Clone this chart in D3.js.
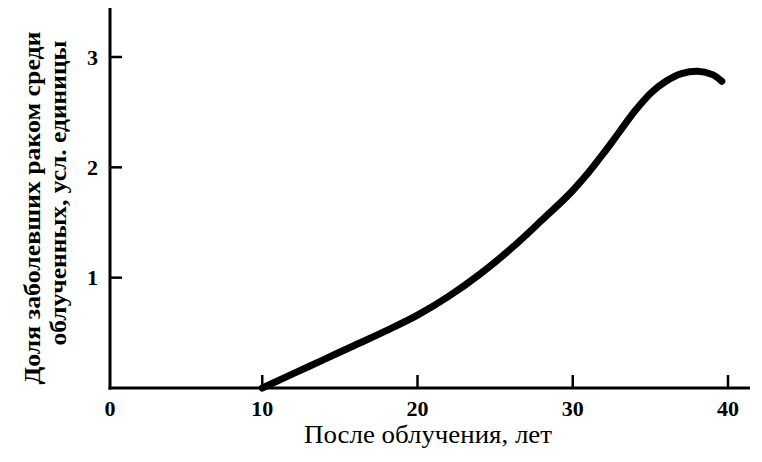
<!DOCTYPE html>
<html>
<head>
<meta charset="utf-8">
<script src="https://cdn.jsdelivr.net/npm/d3@7"></script>
<style>
  html, body { margin: 0; padding: 0; background: #fff; }
  svg { display: block; }
  text { font-family: "Liberation Serif", "Times New Roman", serif; fill: #000; }
</style>
</head>
<body>
<svg id="chart" width="762" height="462"></svg>
<script>
// Data
const years  = [10, 12, 14, 16, 18, 20, 22, 24, 26, 28, 30, 31, 32, 33, 34, 35, 36, 37, 38, 39, 39.6];
const values = [0, 0.13, 0.26, 0.39, 0.52, 0.66, 0.83, 1.03, 1.26, 1.52, 1.79, 1.95, 2.13, 2.32, 2.51, 2.67, 2.78, 2.85, 2.87, 2.84, 2.78];
const xTicks = [0, 10, 20, 30, 40];
const yTicks = [1, 2, 3];
const xTitle = "После облучения, лет";
const yTitle1 = "Доля заболевших раком среди";
const yTitle2 = "облученных, усл. единицы";

const svg = d3.select("#chart");
const x = d3.scaleLinear().domain([0, 40]).range([107, 728]);
const y = d3.scaleLinear().domain([0, 3]).range([388, 57]);
const x0 = 110, y0 = 388;

// Axis lines
svg.append("line").attr("x1", x0).attr("x2", x0).attr("y1", 8).attr("y2", y0 + 1.5)
  .attr("stroke", "#000").attr("stroke-width", 3);
svg.append("line").attr("x1", x0 - 1.5).attr("x2", 750).attr("y1", y0).attr("y2", y0)
  .attr("stroke", "#000").attr("stroke-width", 3);

// X ticks (pointing up) and labels
const xt = svg.append("g");
xt.selectAll("line").data(xTicks.filter(d => d > 0)).enter().append("line")
  .attr("x1", d => x(d)).attr("x2", d => x(d))
  .attr("y1", y0).attr("y2", y0 - 13)
  .attr("stroke", "#000").attr("stroke-width", 2.5);
xt.selectAll("text").data(xTicks).enter().append("text")
  .attr("x", d => d === 0 ? x0 : x(d)).attr("y", 416)
  .attr("text-anchor", "middle")
  .style("font-size", "22px").style("font-weight", "bold")
  .text(d => d);

// Y ticks (pointing right) and labels
const yt = svg.append("g");
yt.selectAll("line").data(yTicks).enter().append("line")
  .attr("x1", x0).attr("x2", x0 + 12)
  .attr("y1", d => y(d)).attr("y2", d => y(d))
  .attr("stroke", "#000").attr("stroke-width", 2.5);
yt.selectAll("text").data(yTicks).enter().append("text")
  .attr("x", 98).attr("y", d => y(d))
  .attr("dy", "0.35em")
  .attr("text-anchor", "end")
  .style("font-size", "22px").style("font-weight", "bold")
  .text(d => d);

// Curve
const line = d3.line()
  .x((d, i) => x(years[i]))
  .y((d, i) => y(values[i]))
  .curve(d3.curveMonotoneX);
svg.append("path")
  .attr("d", line(values))
  .attr("fill", "none")
  .attr("stroke", "#000")
  .attr("stroke-width", 7)
  .attr("stroke-linecap", "round")
  .attr("stroke-linejoin", "round");

// X axis title
svg.append("text")
  .attr("x", 428).attr("y", 443)
  .attr("text-anchor", "middle")
  .attr("textLength", 248).attr("lengthAdjust", "spacingAndGlyphs")
  .style("font-size", "25px")
  .text(xTitle);

// Y axis title (two rotated lines)
svg.append("text")
  .attr("transform", "translate(40,208) rotate(-90)")
  .attr("text-anchor", "middle")
  .attr("textLength", 353).attr("lengthAdjust", "spacingAndGlyphs")
  .style("font-size", "24px").style("font-weight", "bold")
  .text(yTitle1);
svg.append("text")
  .attr("transform", "translate(66,193) rotate(-90)")
  .attr("text-anchor", "middle")
  .attr("textLength", 305).attr("lengthAdjust", "spacingAndGlyphs")
  .style("font-size", "24px").style("font-weight", "bold")
  .text(yTitle2);
</script>
</body>
</html>
